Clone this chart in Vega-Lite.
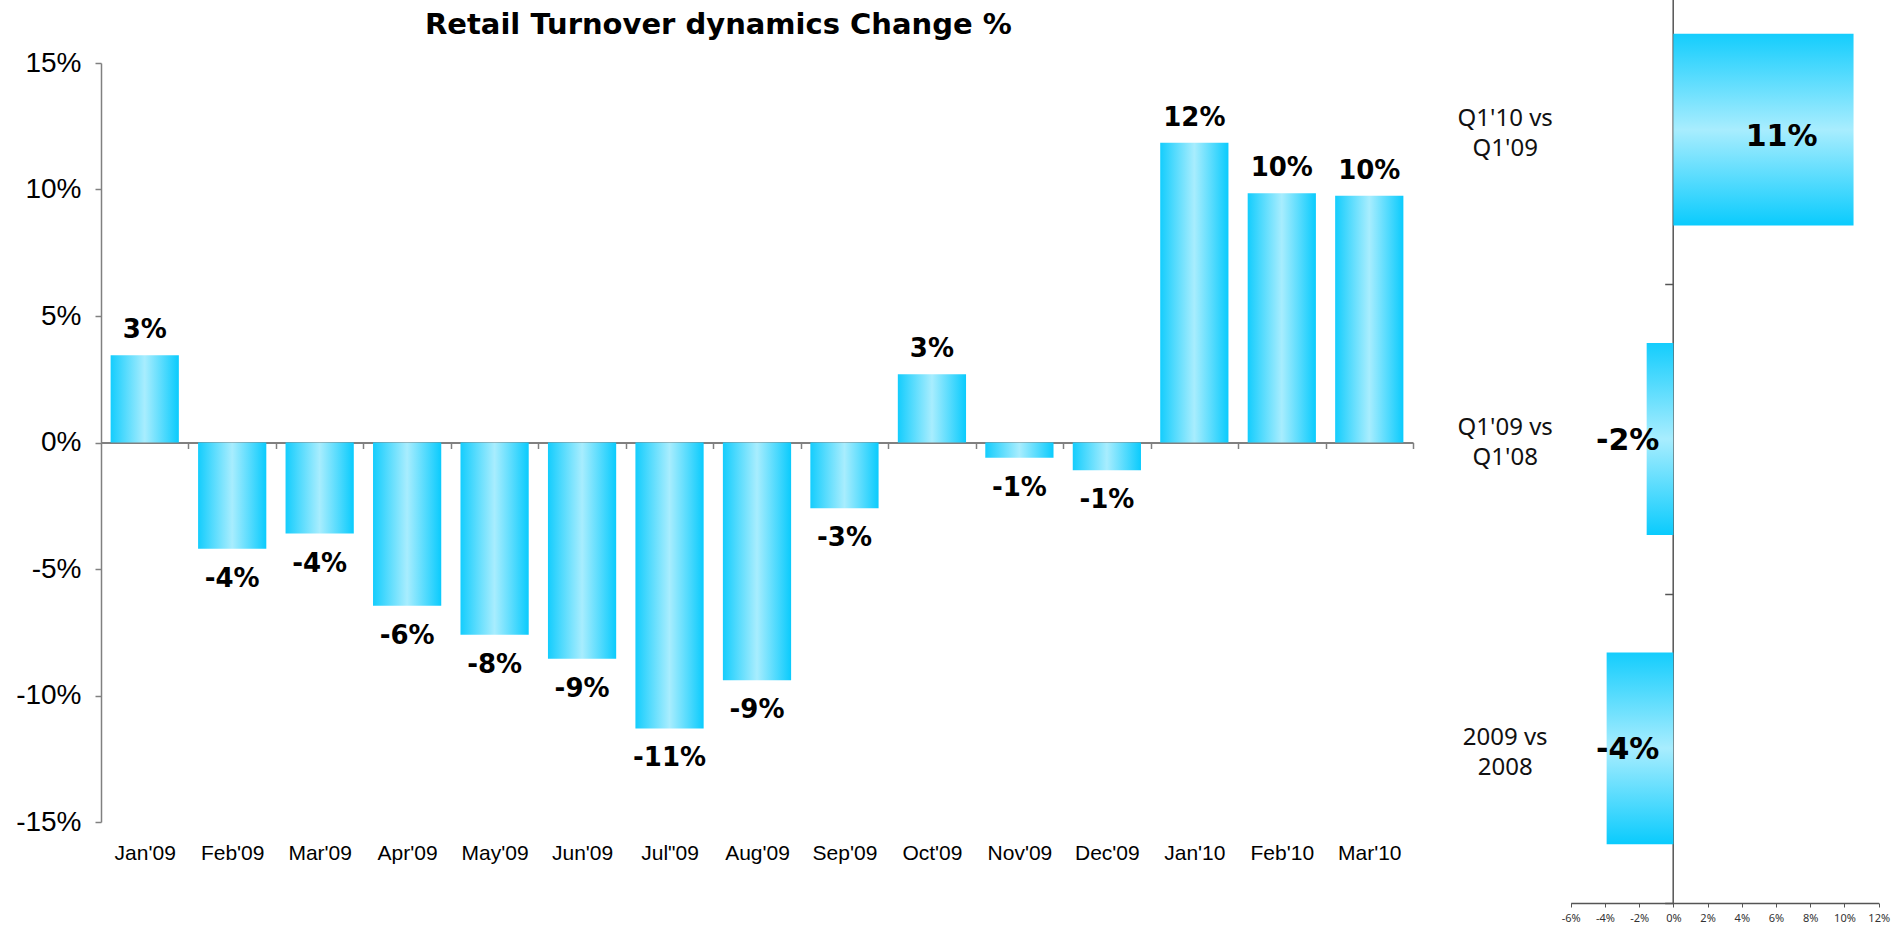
{
  "$schema": "https://vega.github.io/schema/vega-lite/v6.json",
  "width": 1895,
  "height": 930,
  "autosize": {"type": "none"},
  "padding": 0,
  "background": "white",
  "config": {
    "view": {"stroke": null},
    "axis": {"grid": false, "title": null, "labelOverlap": false, "labelBound": false, "labelFlush": false},
    "locale": {"number": {"decimal": ".", "thousands": ",", "grouping": [3], "currency": ["$", ""], "minus": "-"}}
  },
  "title": {
    "text": "Retail Turnover dynamics Change %",
    "font": "DejaVu Sans",
    "fontWeight": "bold",
    "fontSize": 29,
    "color": "#000000",
    "anchor": "start",
    "frame": "group",
    "offset": 0,
    "dx": 425,
    "dy": 40
  },
  "layer": [
    {
      "data": {
        "values": [
          {"month": "Jan'09", "value": 0.0345},
          {"month": "Feb'09", "value": -0.042},
          {"month": "Mar'09", "value": -0.036},
          {"month": "Apr'09", "value": -0.0645},
          {"month": "May'09", "value": -0.076},
          {"month": "Jun'09", "value": -0.0855},
          {"month": "Jul\"09", "value": -0.113},
          {"month": "Aug'09", "value": -0.094},
          {"month": "Sep'09", "value": -0.026},
          {"month": "Oct'09", "value": 0.027},
          {"month": "Nov'09", "value": -0.006},
          {"month": "Dec'09", "value": -0.011},
          {"month": "Jan'10", "value": 0.1185},
          {"month": "Feb'10", "value": 0.0985},
          {"month": "Mar'10", "value": 0.0975}
        ]
      },
      "encoding": {
        "x": {
          "field": "month",
          "type": "nominal",
          "sort": null,
          "scale": {"range": [101, 1413], "paddingInner": 0.22, "paddingOuter": 0.11},
          "axis": {
            "orient": "bottom",
            "offset": -487.5,
            "bandPosition": 1,
            "tickExtra": false,
            "tickOffset": 9.6,
            "labelOffset": -9.6,
            "tickSize": 6,
            "tickColor": "#808080",
            "tickWidth": 1.5,
            "domainColor": "#808080",
            "domainWidth": 2,
            "labelPadding": 394,
            "labelFont": "Liberation Sans",
            "labelFontSize": 21,
            "labelColor": "#000000",
            "labelAngle": 0
          }
        },
        "y": {
          "field": "value",
          "type": "quantitative",
          "scale": {"domain": [-0.15, 0.15], "range": [822, 63], "nice": false, "zero": false},
          "axis": {
            "orient": "left",
            "offset": -101,
            "values": [-0.15, -0.1, -0.05, 0, 0.05, 0.1, 0.15],
            "format": ".0%",
            "tickSize": 6,
            "tickColor": "#808080",
            "tickWidth": 1.5,
            "domainColor": "#808080",
            "domainWidth": 1.5,
            "labelPadding": 14,
            "labelFont": "Liberation Sans",
            "labelFontSize": 28,
            "labelColor": "#000000"
          }
        }
      },
      "layer": [
        {
          "mark": {
            "type": "bar",
            "color": {
              "gradient": "linear",
              "x1": 0, "x2": 1, "y1": 0, "y2": 0,
              "stops": [
                {"offset": 0, "color": "#14CDFD"},
                {"offset": 0.5, "color": "#A8EDFE"},
                {"offset": 1, "color": "#0ACBFD"}
              ]
            }
          }
        },
        {
          "transform": [{"filter": "datum.value >= 0"}],
          "mark": {"type": "text", "font": "DejaVu Sans", "fontWeight": "bold", "fontSize": 26, "color": "#000000", "baseline": "alphabetic", "dy": -17},
          "encoding": {"text": {"field": "value", "type": "quantitative", "format": ".0%"}}
        },
        {
          "transform": [{"filter": "datum.value < 0"}],
          "mark": {"type": "text", "font": "DejaVu Sans", "fontWeight": "bold", "fontSize": 26, "color": "#000000", "baseline": "alphabetic", "dy": 38},
          "encoding": {"text": {"field": "value", "type": "quantitative", "format": ".0%"}}
        }
      ]
    },
    {
      "data": {
        "values": [
          {"cat": "Q1'10 vs|Q1'09", "value": 0.1053},
          {"cat": "Q1'09 vs|Q1'08", "value": -0.0156},
          {"cat": "2009 vs|2008", "value": -0.039}
        ]
      },
      "encoding": {
        "y": {
          "field": "cat",
          "type": "nominal",
          "sort": null,
          "scale": {"range": [-25, 903], "paddingInner": 0.38, "paddingOuter": 0.19},
          "axis": {
            "orient": "left",
            "offset": -1672.7,
            "bandPosition": 1,
            "tickExtra": false,
            "tickOffset": 58.8,
            "labelOffset": -70,
            "tickSize": 8,
            "tickColor": "#555555",
            "tickWidth": 1.5,
            "domainColor": "#555555",
            "domainWidth": 1.5,
            "labelPadding": 160,
            "labelAlign": "center",
            "labelBaseline": "middle",
            "labelExpr": "split(datum.label, '|')",
            "labelLineHeight": 30,
            "labelFont": "Noto Sans",
            "labelFontSize": 24,
            "labelColor": "#111111"
          }
        },
        "x": {
          "field": "value",
          "type": "quantitative",
          "scale": {"domain": [-0.06, 0.12], "range": [1570.7, 1878.7], "nice": false, "zero": false},
          "axis": {
            "orient": "bottom",
            "offset": -27,
            "values": [-0.06, -0.04, -0.02, 0, 0.02, 0.04, 0.06, 0.08, 0.1, 0.12],
            "format": ".0%",
            "tickSize": 4,
            "tickColor": "#555555",
            "domainColor": "#555555",
            "domainWidth": 1.5,
            "labelPadding": 5,
            "labelFont": "Noto Sans",
            "labelFontSize": 11,
            "labelColor": "#333333"
          }
        }
      },
      "layer": [
        {
          "mark": {
            "type": "bar",
            "orient": "horizontal",
            "color": {
              "gradient": "linear",
              "x1": 0, "x2": 0, "y1": 0, "y2": 1,
              "stops": [
                {"offset": 0, "color": "#14CDFD"},
                {"offset": 0.5, "color": "#A8EDFE"},
                {"offset": 1, "color": "#0ACBFD"}
              ]
            }
          }
        },
        {
          "transform": [{"filter": "datum.value >= 0"}],
          "mark": {"type": "text", "font": "DejaVu Sans", "fontWeight": "bold", "fontSize": 30, "color": "#000000", "align": "center", "baseline": "middle", "dx": -72, "dy": 7},
          "encoding": {"text": {"field": "value", "type": "quantitative", "format": ".0%"}}
        },
        {
          "transform": [{"filter": "datum.value < 0"}],
          "mark": {"type": "text", "font": "DejaVu Sans", "fontWeight": "bold", "fontSize": 30, "color": "#000000", "align": "right", "baseline": "middle", "dx": -14, "dy": 2},
          "encoding": {
            "x": {"datum": 0, "type": "quantitative"},
            "text": {"field": "value", "type": "quantitative", "format": ".0%"}
          }
        }
      ]
    }
  ],
  "resolve": {
    "scale": {"x": "independent", "y": "independent"},
    "axis": {"x": "independent", "y": "independent"}
  }
}
